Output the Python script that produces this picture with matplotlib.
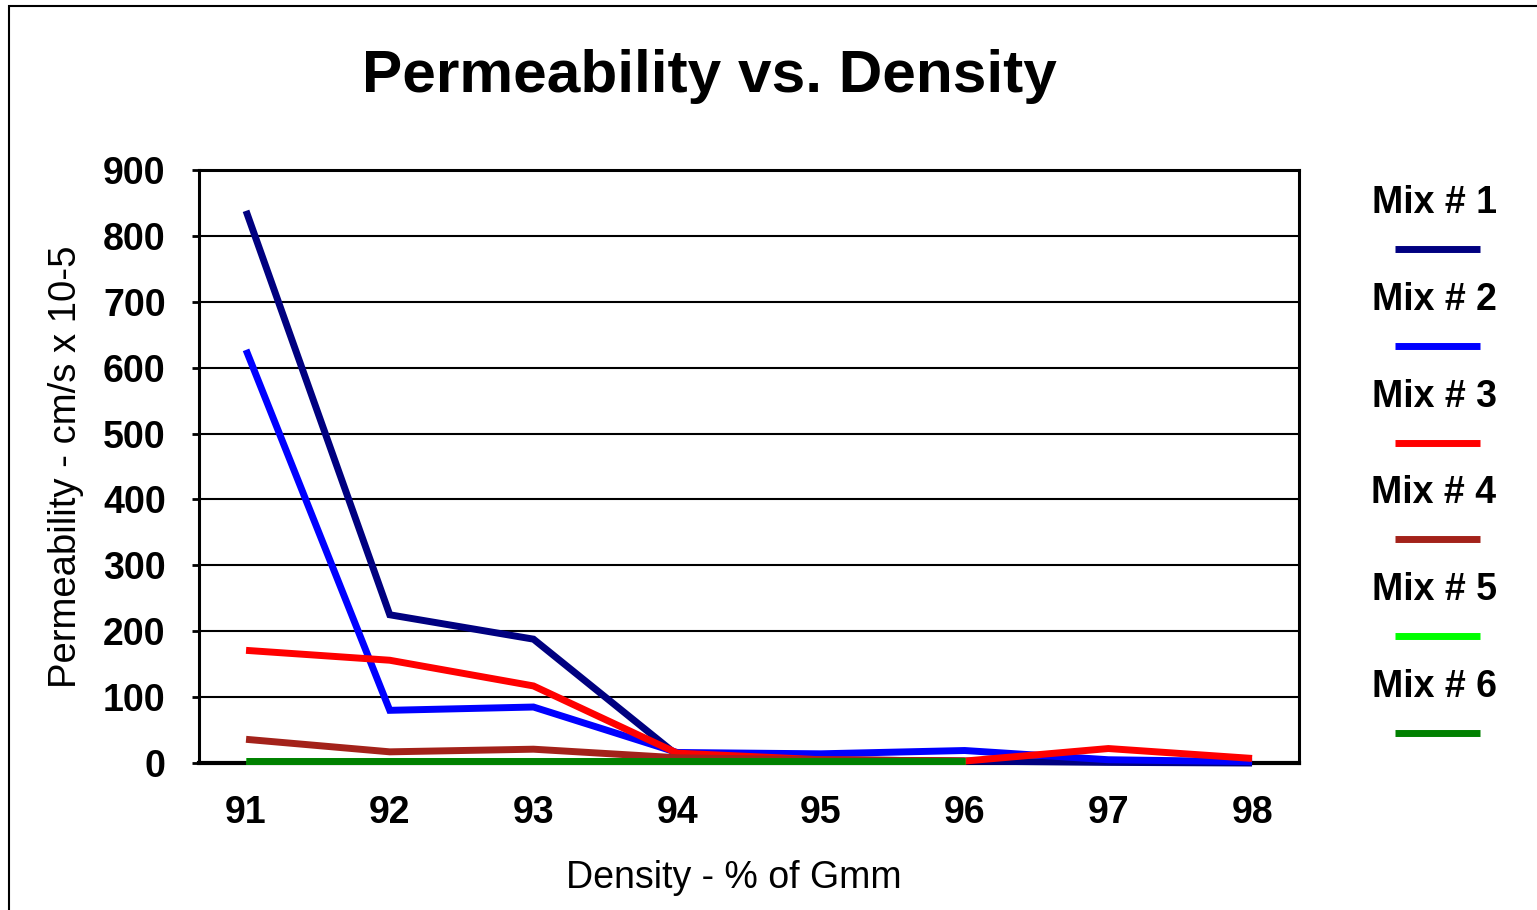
import matplotlib
matplotlib.use("Agg")
import matplotlib.pyplot as plt
from matplotlib.lines import Line2D
from matplotlib.patches import Rectangle

plt.rcParams['font.family'] = ['Liberation Sans', 'DejaVu Sans']

# data
density = [91, 92, 93, 94, 95, 96, 97, 98]
mix1 = [838, 225, 188, 12, 5, 3, 1, 0]
mix2 = [627, 80, 85, 16, 14, 19, 5, 2]
mix3 = [171, 156, 117, 15, 5, 3, 22, 7]
mix4 = [36, 17, 21, 8, 5, 3]
mix5 = [3, 3, 3, 3, 3, 3]
mix6 = [3, 3, 3, 3, 3, 3]

labels = ["Mix # 1", "Mix # 2", "Mix # 3", "Mix # 4", "Mix # 5", "Mix # 6"]
colors = ["#000080", "#0000FF", "#FF0000", "#A3221A", "#00FF00", "#008000"]
series = [mix1, mix2, mix3, mix4, mix5, mix6]
yticks = [0, 100, 200, 300, 400, 500, 600, 700, 800, 900]

fig = plt.figure(figsize=(15.37, 9.10), dpi=100)
ax = fig.add_axes([0.1295, 0.1615, 0.7157, 0.6517])

for i, (vals, c) in enumerate(zip(series, colors)):
    ax.plot(density[:len(vals)], vals, color=c, lw=5, zorder=3 + i,
            solid_joinstyle='miter', solid_capstyle='butt', clip_on=False)

ax.set_xlim(90.673, 98.327)
ax.set_ylim(0, 900)
ax.set_xticks(density)
ax.set_xticklabels([str(d) for d in density])
ax.set_yticks(yticks)
ax.tick_params(axis='x', length=0, pad=23, labelsize=27)
ax.tick_params(axis='y', length=5, width=2, direction='out', pad=19, labelsize=27)
for t in ax.get_xticklabels() + ax.get_yticklabels():
    t.set_fontweight('bold')

ax.grid(axis='y', color='black', lw=1.5, zorder=1)
for s in ax.spines.values():
    s.set_linewidth(2.2)
ax.spines['bottom'].set_linewidth(3)

ax.set_ylabel("Permeability - cm/s x 10-5", fontsize=27.5, labelpad=14)
fig.text(734 / 1537, 1 - 878 / 910, "Density - % of Gmm", fontsize=27,
         ha='center', va='center')
fig.text(709 / 1537, 1 - 77 / 910, "Permeability vs. Density", fontsize=43.5,
         fontweight='bold', ha='center', va='center')

# legend: label above a short line, stacked vertically
for i, (lab, c) in enumerate(zip(labels, colors)):
    ty = 1 - (203 + i * 96.8) / 910
    ly = 1 - (249 + i * 96.8) / 910
    fig.text(1434 / 1537, ty, lab, fontsize=27, fontweight='bold', ha='center', va='center')
    fig.add_artist(Line2D([1395 / 1537, 1480 / 1537], [ly, ly], color=c, lw=5,
                          solid_capstyle='butt'))

# outer chart border
fig.add_artist(Rectangle((9 / 1537, -0.05), 1.2, 1 - 6 / 910 + 0.05, fill=False,
                         edgecolor='black', lw=1.5, transform=fig.transFigure))

fig.savefig("out.png", dpi=100)
